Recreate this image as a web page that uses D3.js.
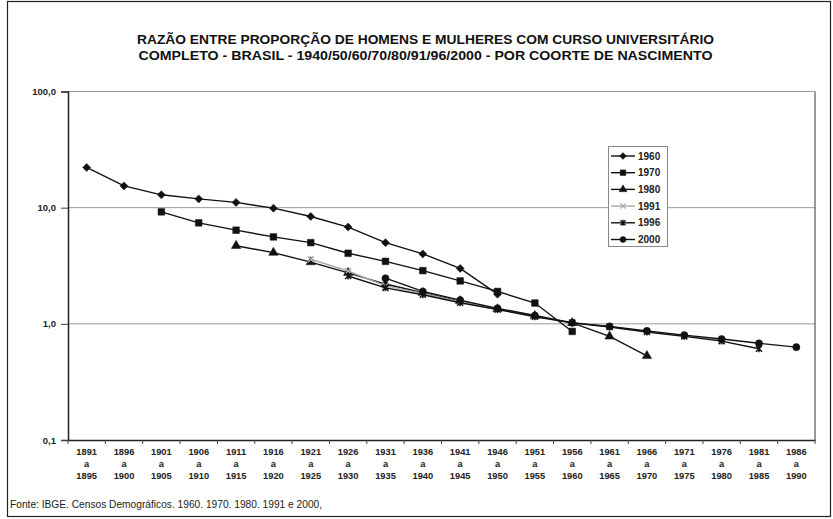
<!DOCTYPE html>
<html>
<head>
<meta charset="utf-8">
<script src="https://cdn.jsdelivr.net/npm/d3@7"></script>
<style>
  html, body { margin: 0; padding: 0; background: #fff; }
  svg { display: block; font-family: "Liberation Sans", Arial, sans-serif; }
</style>
</head>
<body>
<svg id="chart" width="833" height="519"></svg>
<script>
// ---- data ----
const titleLines = [
  "RAZÃO ENTRE PROPORÇÃO DE HOMENS E MULHERES COM CURSO UNIVERSITÁRIO",
  "COMPLETO  - BRASIL - 1940/50/60/70/80/91/96/2000 - POR COORTE DE NASCIMENTO"
];
const footer = "Fonte: IBGE. Censos Demográficos. 1960. 1970. 1980. 1991 e 2000,";
const cohortStart = ["1891","1896","1901","1906","1911","1916","1921","1926","1931","1936",
                     "1941","1946","1951","1956","1961","1966","1971","1976","1981","1986"];
const cohortEnd   = ["1895","1900","1905","1910","1915","1920","1925","1930","1935","1940",
                     "1945","1950","1955","1960","1965","1970","1975","1980","1985","1990"];
const yTicks = [0.1, 1, 10, 100];
const seriesNames = ["1960","1970","1980","1991","1996","2000"];
const s1960 = [22.2,15.4,12.9,11.9,11.1,9.9,8.4,6.8,5.0,4.0,3.0,1.8,null,null,null,null,null,null,null,null];
const s1970 = [null,null,9.2,7.4,6.4,5.6,5.0,4.05,3.45,2.87,2.34,1.9,1.51,0.86,null,null,null,null,null,null];
const s1980 = [null,null,null,null,4.7,4.1,3.4,2.75,2.2,1.85,1.57,1.34,1.17,1.02,0.78,0.53,null,null,null,null];
const s1991 = [null,null,null,null,null,null,3.6,2.85,2.12,1.83,1.55,1.34,1.16,1.03,0.95,0.86,0.79,0.72,null,null];
const s1996 = [null,null,null,null,null,null,null,2.58,2.04,1.78,1.52,1.33,1.15,1.02,0.94,0.85,0.78,0.71,0.61,null];
const s2000 = [null,null,null,null,null,null,null,null,2.47,1.9,1.6,1.36,1.18,1.02,0.95,0.87,0.8,0.74,0.68,0.63];
const seriesValues = [s1960, s1970, s1980, s1991, s1996, s2000];
const markerTypes = ["diamond","square","triangle","x","star","circle"];
const seriesColors = ["#111","#111","#111","#aaa","#111","#111"];

// ---- layout ----
const svg = d3.select("#chart");
const plot = {left: 68, right: 815, top: 91.5, bottom: 440};

svg.append("rect").attr("x", 7.5).attr("y", 1.5).attr("width", 823).attr("height", 515)
  .attr("fill", "#fff").attr("stroke", "#222").attr("stroke-width", 1.2);

// title
const titleWidths = [577, 574];
svg.append("g").selectAll("text").data(titleLines).join("text")
  .attr("x", 425.5).attr("y", (d,i) => 44 + i*16)
  .attr("text-anchor", "middle").attr("font-size", 12.5).attr("font-weight", "bold")
  .attr("textLength", (d,i) => titleWidths[i]).attr("lengthAdjust", "spacingAndGlyphs")
  .attr("fill", "#111").text(d => d);

const x = d3.scaleBand().domain(cohortStart).range([plot.left, plot.right]);
const y = d3.scaleLog().domain([0.1, 100]).range([plot.bottom, plot.top]);

// gridlines
svg.append("g").selectAll("line").data(yTicks.filter(d => d > 0.1)).join("line")
  .attr("x1", plot.left).attr("x2", plot.right)
  .attr("y1", d => y(d)).attr("y2", d => y(d))
  .attr("stroke", "#999").attr("stroke-width", 1);
// right border
svg.append("line").attr("x1", plot.right).attr("x2", plot.right)
  .attr("y1", plot.top).attr("y2", plot.bottom).attr("stroke", "#777").attr("stroke-width", 1.5);

// y axis
const fmt = d => d3.format(".1f")(d).replace(".", ",");
const yAxis = svg.append("g").attr("transform", `translate(${plot.left},0)`)
  .call(d3.axisLeft(y).tickValues(yTicks).tickFormat(fmt).tickSize(7).tickPadding(5));
yAxis.select(".domain").attr("stroke", "#222").attr("stroke-width", 1.5);
yAxis.selectAll(".tick line").attr("stroke", "#444");
yAxis.selectAll("text").attr("font-size", 9.5).attr("font-family", "Liberation Sans, Arial, sans-serif")
  .attr("fill", "#222").attr("font-weight", "bold");

// x axis
const xAxis = svg.append("g").attr("transform", `translate(0,${plot.bottom})`)
  .call(d3.axisBottom(x).tickSize(0).tickPadding(0));
xAxis.select(".domain").attr("stroke", "#222").attr("stroke-width", 1.5);
xAxis.selectAll(".tick text").each(function(d, i) {
  const t = d3.select(this).text(null).attr("y", 0).attr("dy", null)
    .attr("font-size", 9.3).attr("font-family", "Liberation Sans, Arial, sans-serif")
    .attr("fill", "#222").attr("font-weight", "bold");
  [d, "a", cohortEnd[i]].forEach((s, k) => {
    t.append("tspan").attr("x", 0).attr("y", 15 + k*12).text(s);
  });
});
// boundary ticks
const bounds = cohortStart.map(c => x(c)).concat([plot.right]);
svg.append("g").selectAll("line").data(bounds).join("line")
  .attr("x1", d => d).attr("x2", d => d)
  .attr("y1", plot.bottom).attr("y2", plot.bottom + 4)
  .attr("stroke", "#444");

// markers
function markerPath(type) {
  switch (type) {
    case "diamond": return "M0,-4L4,0L0,4L-4,0Z";
    case "square": return d3.symbol(d3.symbolSquare, 44)();
    case "triangle": return d3.symbol(d3.symbolTriangle, 38)();
    case "circle": return d3.symbol(d3.symbolCircle, 40)();
    case "x": return "M-3,-3L3,3M-3,3L3,-3";
    case "star": return "M-3,-3L3,3M-3,3L3,-3M0,-3.5L0,3.5";
  }
}

const line = d3.line()
  .defined(d => d.v != null)
  .x(d => x(d.c) + x.bandwidth()/2)
  .y(d => y(d.v));

seriesValues.forEach((vals, si) => {
  const pts = vals.map((v, i) => ({c: cohortStart[i], v}));
  const g = svg.append("g");
  g.append("path").datum(pts).attr("d", line)
    .attr("fill", "none").attr("stroke", seriesColors[si]).attr("stroke-width", 1.4);
  const isStroke = markerTypes[si] === "x" || markerTypes[si] === "star";
  g.selectAll("path.m").data(pts.filter(d => d.v != null)).join("path").attr("class", "m")
    .attr("transform", d => `translate(${x(d.c) + x.bandwidth()/2},${y(d.v)})`)
    .attr("d", markerPath(markerTypes[si]))
    .attr("fill", isStroke ? "none" : seriesColors[si])
    .attr("stroke", seriesColors[si]).attr("stroke-width", isStroke ? 1.5 : 0.5);
});

// legend
const lg = svg.append("g");
lg.append("rect").attr("x", 608.5).attr("y", 146.5).attr("width", 59).attr("height", 100)
  .attr("fill", "#fff").attr("stroke", "#888").attr("stroke-width", 1);
seriesNames.forEach((name, si) => {
  const yy = 156 + si * 16.7;
  lg.append("line").attr("x1", 611).attr("x2", 635).attr("y1", yy).attr("y2", yy)
    .attr("stroke", seriesColors[si]).attr("stroke-width", 1.4);
  const isStroke = markerTypes[si] === "x" || markerTypes[si] === "star";
  lg.append("path").attr("transform", `translate(623,${yy}) scale(0.85)`).attr("d", markerPath(markerTypes[si]))
    .attr("fill", isStroke ? "none" : seriesColors[si])
    .attr("stroke", seriesColors[si]).attr("stroke-width", isStroke ? 1.5 : 0.5);
  lg.append("text").attr("x", 638).attr("y", yy + 3.5).attr("font-size", 10)
    .attr("font-weight", "bold").attr("fill", "#222").text(name);
});

// footer
svg.append("text").attr("x", 10).attr("y", 508).attr("font-size", 10.2)
  .attr("fill", "#222").text(footer);
</script>
</body>
</html>
